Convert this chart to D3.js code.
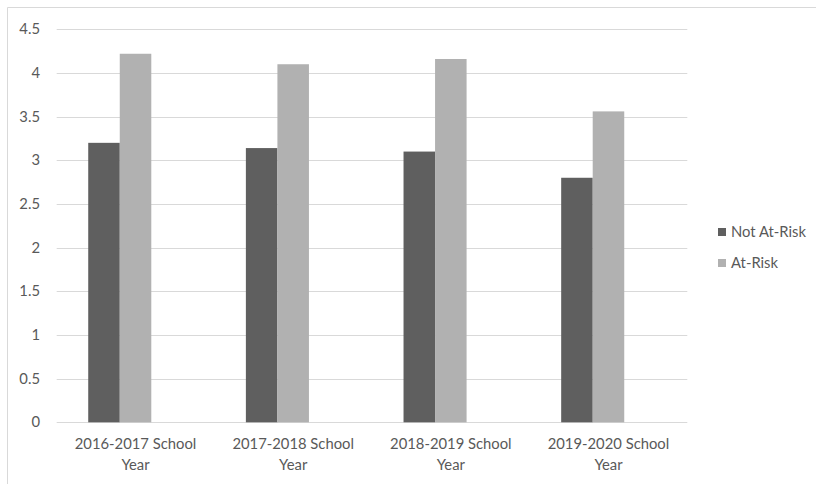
<!DOCTYPE html>
<html>
<head>
<meta charset="utf-8">
<script src="https://cdn.jsdelivr.net/npm/d3@7"></script>
<style>
  body { margin: 0; background: #fff; }
  svg { display: block; }
  text { font-family: Lato, "Open Sans", sans-serif; fill: #595959; font-size: 14.8px; }
</style>
</head>
<body>
<div id="chart"></div>
<script>
var categories = ["2016-2017 School Year", "2017-2018 School Year", "2018-2019 School Year", "2019-2020 School Year"];
var seriesNames = ["Not At-Risk", "At-Risk"];
var notAtRisk = [3.2, 3.14, 3.1, 2.8];
var atRisk = [4.22, 4.1, 4.16, 3.56];
var yTicks = [0, 0.5, 1, 1.5, 2, 2.5, 3, 3.5, 4, 4.5];
var colors = ["#5f5f5f", "#b1b1b1"];

var width = 816, height = 484;
var plot = { left: 56.7, right: 687.3, top: 29.3, bottom: 422.3 };

var svg = d3.select("#chart").append("svg")
    .attr("width", width)
    .attr("height", height);

// chart frame (only top and left edges are visible in the crop)
svg.append("path")
    .attr("d", "M7.5," + height + "V7.5H" + width)
    .attr("fill", "none")
    .attr("stroke", "#d9d9d9");

var y = d3.scaleLinear().domain([0, 4.5]).range([plot.bottom, plot.top]);

var x0 = d3.scaleBand()
    .domain(categories)
    .range([plot.left, plot.right])
    .paddingInner(0.4)
    .paddingOuter(0.2);

// Excel reserved a third (empty) slot in each group, so bars sit left of centre
var x1 = d3.scaleBand()
    .domain(seriesNames.concat([""]))
    .range([0, x0.bandwidth()]);

// gridlines
svg.append("g")
    .selectAll("line")
    .data(yTicks)
    .enter()
    .append("line")
    .attr("x1", plot.left)
    .attr("x2", plot.right)
    .attr("y1", function (d) { return Math.round(y(d)) + 0.5; })
    .attr("y2", function (d) { return Math.round(y(d)) + 0.5; })
    .attr("stroke", "#d9d9d9")
    .attr("stroke-width", 1);

// y labels
svg.append("g")
    .selectAll("text")
    .data(yTicks)
    .enter()
    .append("text")
    .attr("x", 40)
    .attr("y", function (d) { return y(d); })
    .attr("dy", "0.35em")
    .attr("text-anchor", "end")
    .text(function (d) { return d; });

// bars
var series = [notAtRisk, atRisk];
series.forEach(function (vals, si) {
    svg.append("g")
        .selectAll("rect")
        .data(vals)
        .enter()
        .append("rect")
        .attr("x", function (d, i) { return x0(categories[i]) + x1(seriesNames[si]); })
        .attr("y", function (d) { return y(d); })
        .attr("width", x1.bandwidth())
        .attr("height", function (d) { return y(0) - y(d); })
        .attr("fill", colors[si]);
});

// x labels (wrapped over two lines like the original)
var xl = svg.append("g")
    .selectAll("text")
    .data(categories)
    .enter()
    .append("text")
    .attr("text-anchor", "middle")
    .attr("transform", function (d) { return "translate(" + (x0(d) + x0.bandwidth() / 2) + ",0)"; });
xl.append("tspan")
    .attr("x", 0)
    .attr("y", 449)
    .text(function (d) { return d.replace(/ Year$/, ""); });
xl.append("tspan")
    .attr("x", 0)
    .attr("y", 470)
    .text("Year");

// legend
var legend = svg.append("g")
    .selectAll("g")
    .data(seriesNames)
    .enter()
    .append("g")
    .attr("transform", function (d, i) { return "translate(718," + (232 + i * 31) + ")"; });
legend.append("rect")
    .attr("x", 0)
    .attr("y", -4)
    .attr("width", 8)
    .attr("height", 8)
    .attr("fill", function (d, i) { return colors[i]; });
legend.append("text")
    .attr("x", 13)
    .attr("y", 0)
    .attr("dy", "0.35em")
    .text(function (d) { return d; });
</script>
</body>
</html>
